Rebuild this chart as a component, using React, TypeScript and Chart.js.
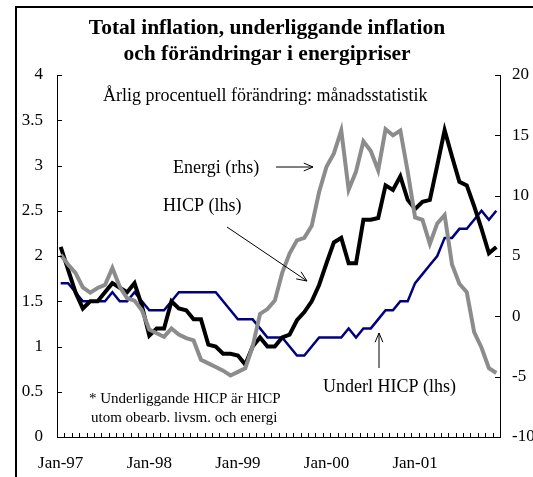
import React, { useEffect, useRef } from 'react';
import { Chart, registerables } from 'chart.js';

Chart.register(...registerables);

const years = ['97', '98', '99', '00', '01'];
const months = ['Jan', 'Feb', 'Mar', 'Apr', 'May', 'Jun', 'Jul', 'Aug', 'Sep', 'Oct', 'Nov', 'Dec'];
const categories = years.flatMap((y) => months.map((m) => `${m}-${y}`));

// HICP, total inflation (left axis, %)
const hicp = [
  2.1, 1.85, 1.6, 1.42, 1.5, 1.5, 1.6, 1.7, 1.65, 1.6, 1.7, 1.45,
  1.12, 1.2, 1.2, 1.5, 1.42, 1.4, 1.3, 1.3, 1.02, 1.0, 0.92, 0.92,
  0.9, 0.8, 1.0, 1.1, 1.0, 1.0, 1.1, 1.13, 1.29, 1.38, 1.5, 1.68,
  1.92, 2.15, 2.2, 1.92, 1.92, 2.4, 2.4, 2.42, 2.78, 2.73, 2.88, 2.62,
  2.52, 2.6, 2.62, 3.0, 3.39, 3.1, 2.82, 2.78, 2.55, 2.3, 2.03, 2.1,
];

// Underlying HICP (left axis, %)
const underlHicp = [
  1.7, 1.7, 1.6, 1.5, 1.5, 1.5, 1.5, 1.6, 1.5, 1.5, 1.6, 1.5,
  1.4, 1.4, 1.4, 1.5, 1.6, 1.6, 1.6, 1.6, 1.6, 1.6, 1.5, 1.4,
  1.3, 1.3, 1.3, 1.2, 1.1, 1.1, 1.1, 1.0, 0.9, 0.9, 1.0, 1.1,
  1.1, 1.1, 1.1, 1.2, 1.1, 1.2, 1.2, 1.3, 1.4, 1.4, 1.5, 1.5,
  1.7, 1.8, 1.9, 2.0, 2.2, 2.2, 2.3, 2.3, 2.4, 2.5, 2.4, 2.5,
];

// Energy prices (right axis, %)
const energi = [
  5.1, 4.3, 3.6, 2.4, 1.96, 2.35, 2.6, 4.0, 2.45, 1.5, 1.3, 0.5,
  -1.1, -1.4, -1.7, -1.0, -1.5, -1.8, -2.0, -3.6, -3.9, -4.2, -4.5, -4.9,
  -4.6, -4.3, -2.5, 0.2, 0.6, 1.3, 3.6, 5.2, 6.3, 6.5, 7.5, 10.3,
  12.4, 13.5, 15.4, 10.5, 12.0, 14.5, 13.7, 12.1, 15.5, 15.0, 15.4, 12.0,
  8.2, 8.0, 6.0, 7.7, 8.4, 4.3, 2.7, 2.0, -1.3, -2.6, -4.3, -4.7,
];

const titleLines = ['Total inflation, underliggande inflation', 'och förändringar i energipriser'];
const subtitle = 'Årlig procentuell förändring: månadsstatistik';
const footnote = ['* Underliggande HICP är HICP', 'utom obearb. livsm. och energi'];

const SERIF = '"Liberation Serif", "Times New Roman", serif';

function arrow(ctx: CanvasRenderingContext2D, x1: number, y1: number, x2: number, y2: number, size = 10) {
  const a = Math.atan2(y2 - y1, x2 - x1);
  ctx.beginPath();
  ctx.moveTo(x1, y1);
  ctx.lineTo(x2, y2);
  ctx.moveTo(x2 - size * Math.cos(a - 0.4), y2 - size * Math.sin(a - 0.4));
  ctx.lineTo(x2, y2);
  ctx.lineTo(x2 - size * Math.cos(a + 0.4), y2 - size * Math.sin(a + 0.4));
  ctx.stroke();
}

const decor = {
  id: 'decor',
  afterDraw(chart: any) {
    const ctx: CanvasRenderingContext2D = chart.ctx;
    const xs = chart.scales.x;
    const yl = chart.scales.y;
    const yr = chart.scales.y1;
    const ca = chart.chartArea;
    ctx.save();
    ctx.setLineDash([]);
    ctx.globalAlpha = 1;
    // frame
    ctx.strokeStyle = '#000';
    ctx.lineWidth = 2;
    ctx.beginPath();
    ctx.moveTo(16, chart.height + 5);
    ctx.lineTo(16, 7);
    ctx.lineTo(chart.width + 5, 7);
    ctx.stroke();

    // tick marks (inward)
    ctx.fillStyle = '#000';
    const n = categories.length;
    const bottom = Math.round(ca.bottom);
    const left = Math.round(ca.left);
    const right = Math.round(ca.right);
    for (let i = 0; i <= n; i++) {
      const px = Math.round(xs.getPixelForDecimal(i / n));
      ctx.fillRect(px, bottom - 4, 1, 4);
    }
    for (const t of yl.ticks) {
      const py = Math.round(yl.getPixelForValue(t.value));
      ctx.fillRect(left, py, 5, 1);
    }
    for (const t of yr.ticks) {
      const py = Math.round(yr.getPixelForValue(t.value));
      ctx.fillRect(right - 5, py, 5, 1);
    }

    // title
    ctx.fillStyle = '#000';
    ctx.textAlign = 'center';
    ctx.textBaseline = 'alphabetic';
    ctx.font = `bold 21.5px ${SERIF}`;
    ctx.fillText(titleLines[0], 267, 34);
    ctx.fillText(titleLines[1], 267, 60);

    // subtitle
    ctx.textAlign = 'left';
    ctx.textBaseline = 'middle';
    ctx.font = `18px ${SERIF}`;
    ctx.fillText(subtitle, 103, 96);

    // annotations
    ctx.fillText('Energi (rhs)', 173, 168);
    ctx.fillText('HICP (lhs)', 163, 206);
    ctx.fillText('Underl HICP (lhs)', 323, 387);
    ctx.lineWidth = 1;
    arrow(ctx, 276, 167, 313, 167, 10);
    arrow(ctx, 227, 227, 307, 281, 11);
    arrow(ctx, 379, 368, 379, 333, 10);

    ctx.font = `15px ${SERIF}`;
    ctx.fillText(footnote[0], 89, 399);
    ctx.fillText(footnote[1], 91, 418);
    ctx.restore();
  },
};

export default function App() {
  const ref = useRef<HTMLCanvasElement>(null);
  useEffect(() => {
    if (!ref.current) return;
    const tickFont = { family: SERIF, size: 17 };
    const chart = new Chart(ref.current, {
      type: 'line',
      data: {
        labels: categories,
        datasets: [
          { label: 'Energi (rhs)', data: energi, yAxisID: 'y1', borderColor: '#8c8c8c', borderWidth: 4, pointRadius: 0, tension: 0, fill: false },
          { label: 'HICP (lhs)', data: hicp, yAxisID: 'y', borderColor: '#000000', borderWidth: 4, pointRadius: 0, tension: 0, fill: false },
          { label: 'Underl HICP (lhs)', data: underlHicp, yAxisID: 'y', borderColor: '#000080', borderWidth: 2.5, pointRadius: 0, tension: 0, fill: false },
        ],
      },
      options: {
        responsive: false,
        animation: false,
        layout: { padding: { top: 75, left: 0, right: 0, bottom: 0 } },
        plugins: { legend: { display: false }, tooltip: { enabled: false }, title: { display: false } },
        scales: {
          x: {
            type: 'category',
            offset: true,
            grid: { display: false, drawTicks: false, offset: true },
            border: { display: true, color: '#000', width: 1 },
            ticks: {
              autoSkip: false, maxRotation: 0, minRotation: 0, padding: 16, color: '#000', font: tickFont,
              callback: (_v: any, i: number) => (i % 12 === 0 ? categories[i] : ''),
            },
            afterFit: (s: any) => { s.height = 40; },
          },
          y: {
            position: 'left', min: 0, max: 4,
            grid: { display: false, drawTicks: false },
            border: { display: true, color: '#000', width: 1 },
            ticks: { stepSize: 0.5, padding: 14, color: '#000', font: tickFont, callback: (v: any) => String(Math.round(Number(v) * 10) / 10) },
            afterFit: (s: any) => { s.width = 57; },
          },
          y1: {
            position: 'right', min: -10, max: 20,
            grid: { display: false, drawTicks: false },
            border: { display: true, color: '#000', width: 1 },
            ticks: { stepSize: 5, padding: 12, color: '#000', font: tickFont, callback: (v: any) => String(v) },
            afterFit: (s: any) => { s.width = 33; },
          },
        },
      },
      plugins: [decor],
    });
    return () => chart.destroy();
  }, []);
  return (
    <div style={{ position: 'fixed', left: 0, top: 0, width: 533, height: 477, background: '#fff' }}>
      <canvas ref={ref} width={533} height={477} />
    </div>
  );
}
